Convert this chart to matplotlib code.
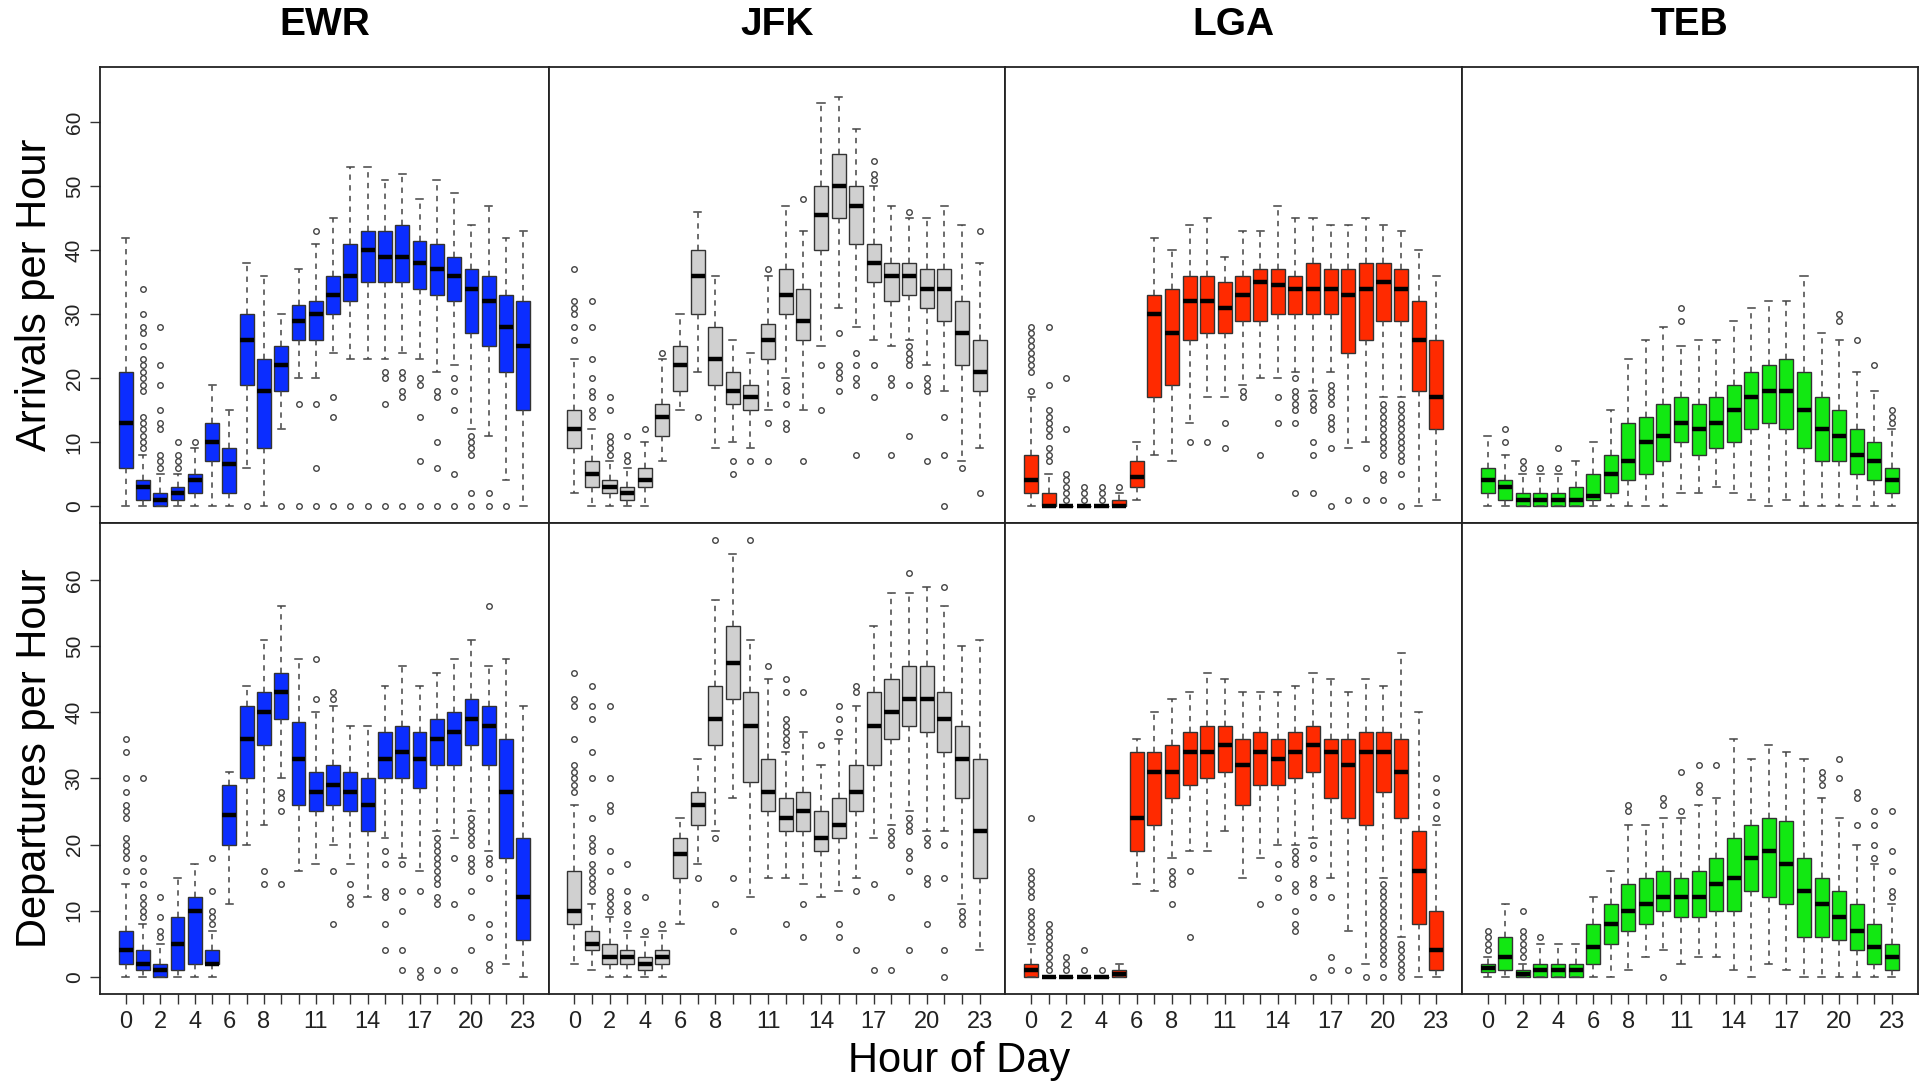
import matplotlib
matplotlib.use("Agg")
import matplotlib.pyplot as plt

plt.rcParams["font.family"] = ["Liberation Sans", "DejaVu Sans"]

airports = ["EWR", "JFK", "LGA", "TEB"]
box_colors = ["#0b2dff", "#d0d0d0", "#ff2a00", "#12e812"]
hours = list(range(24))
hour_labels = [str(h) if h in (0, 2, 4, 6, 8, 11, 14, 17, 20, 23) else "" for h in hours]

# Hourly box statistics, one row per hour: [whisker low, q1, median, q3, whisker high]
ewr_arr = [
    [0, 6, 13, 21, 42], [0, 1, 3, 4, 8], [0, 0, 1, 2, 5], [0, 1, 2, 3, 5],
    [0, 2, 4, 5, 9], [0, 7, 10, 13, 19], [0, 2, 6.5, 9, 15], [6, 19, 26, 30, 38],
    [0, 9, 18, 23, 36], [12, 18, 22, 25, 30], [20, 26, 29, 31.5, 37], [20, 26, 30, 32, 41],
    [24, 30, 33, 36, 45], [23, 32, 36, 41, 53], [23, 35, 40, 43, 53], [23, 35, 39, 43, 51],
    [24, 35, 39, 44, 52], [23, 34, 38, 41.5, 48], [21, 33, 37, 41, 51], [22, 32, 36, 39, 49],
    [12, 27, 34, 37, 44], [11, 25, 32, 36, 47], [4, 21, 28, 33, 42], [0, 15, 25, 32, 43],
]
ewr_arr_out = [
    [], [9, 10, 11, 12, 13, 14, 18, 19, 20, 21, 22, 23, 25, 27, 28, 30, 34],
    [6, 7, 8, 12, 13, 15, 19, 22, 28], [6, 7, 8, 10], [10], [], [], [0], [], [0],
    [16, 0], [43, 16, 6, 0], [17, 14, 0], [0], [0], [21, 20, 16, 0], [21, 20, 18, 17, 0],
    [20, 19, 14, 7, 0], [18, 17, 10, 6, 0], [20, 18, 15, 5, 0], [11, 10, 9, 8, 2, 0],
    [2, 0], [0], [],
]

jfk_arr = [
    [2, 9, 12, 15, 23], [0, 3, 5, 7, 12], [0, 2, 3, 4, 7], [0, 1, 2, 3, 6],
    [0, 3, 4, 6, 10], [7, 11, 14, 16, 23], [15, 18, 22, 25, 30], [21, 30, 36, 40, 46],
    [9, 19, 23, 28, 36], [10, 16, 18, 21, 26], [9, 15, 17, 19, 24], [15, 23, 26, 28.5, 36],
    [20, 30, 33, 37, 47], [15, 26, 29, 34, 43], [25, 40, 45.5, 50, 63], [31, 45, 50, 55, 64],
    [28, 41, 47, 50, 59], [26, 35, 38, 41, 50], [25, 32, 36, 38, 47], [26, 33, 36, 38, 45],
    [22, 31, 34, 37, 45], [18, 29, 34, 37, 47], [7, 22, 27, 32, 44], [9, 18, 21, 26, 38],
]
jfk_arr_out = [
    [37, 32, 31, 30, 28, 26], [32, 28, 23, 20, 18, 17, 15, 14], [17, 15, 11, 10, 9, 8],
    [11, 8, 7], [12], [24], [], [14], [], [7, 5], [7], [37, 13, 7], [19, 18, 16, 13, 12],
    [48, 7], [22, 15], [27, 22, 21, 20, 18], [24, 22, 20, 19, 8], [54, 52, 51, 22, 17],
    [20, 19, 8], [46, 25, 24, 23, 22, 19, 11], [20, 19, 18, 7], [14, 8, 0], [6], [43, 2],
]

lga_arr = [
    [0, 2, 4, 8, 17], [0, 0, 0, 2, 5], [0, 0, 0, 0, 0], [0, 0, 0, 0, 0],
    [0, 0, 0, 0, 0], [0, 0, 0, 1, 2], [1, 3, 4.5, 7, 10], [8, 17, 30, 33, 42],
    [7, 19, 27, 34, 40], [13, 26, 32, 36, 44], [17, 27, 32, 36, 45], [17, 27, 31, 35, 39],
    [19, 29, 33, 36, 43], [20, 29, 35, 37, 43], [20, 30, 34.5, 37, 47], [21, 30, 34, 36, 45],
    [18, 30, 34, 38, 45], [21, 30, 34, 37, 44], [9, 24, 33, 37, 44], [10, 26, 34, 38, 45],
    [17, 29, 35, 38, 44], [17, 29, 34, 37, 43], [0, 18, 26, 32, 40], [1, 12, 17, 26, 36],
]
lga_arr_out = [
    [18, 21, 22, 23, 24, 25, 26, 27, 28], [7, 8, 9, 11, 12, 13, 14, 15, 19, 28],
    [1, 2, 3, 4, 5, 12, 20], [1, 2, 3], [1, 2, 3], [3], [], [], [], [10], [10], [13, 9],
    [18, 17], [8], [17, 13], [20, 18, 17, 16, 15, 13, 2], [17, 16, 15, 10, 8, 2],
    [19, 18, 17, 16, 14, 13, 12, 9, 0], [1], [6, 1],
    [16, 15, 14, 13, 12, 11, 10, 9, 8, 5, 4, 1], [16, 15, 14, 13, 12, 11, 10, 9, 8, 7, 5, 0],
    [], [],
]

teb_arr = [
    [0, 2, 4, 6, 11], [0, 1, 3, 4, 8], [0, 0, 1, 2, 5], [0, 0, 1, 2, 5],
    [0, 0, 1, 2, 5], [0, 0, 1, 3, 7], [0, 1, 1.5, 5, 10], [0, 2, 5, 8, 15],
    [0, 4, 7, 13, 23], [0, 5, 10, 14, 26], [0, 7, 11, 16, 28], [2, 10, 13, 17, 25],
    [2, 8, 12, 16, 26], [3, 9, 13, 17, 26], [2, 10, 15, 19, 29], [1, 12, 17, 21, 31],
    [0, 13, 18, 22, 32], [1, 12, 18, 23, 32], [0, 9, 15, 21, 36], [0, 7, 12, 17, 27],
    [0, 7, 11, 15, 26], [0, 5, 8, 12, 21], [0, 4, 7, 10, 18], [0, 2, 4, 6, 12],
]
teb_arr_out = [
    [], [12, 10], [7, 6], [6], [9, 6], [], [], [], [], [], [], [31, 29], [], [], [], [],
    [], [], [], [], [30, 29], [26], [22], [13, 14, 15],
]

ewr_dep = [
    [0, 2, 4, 7, 14], [0, 1, 2, 4, 8], [0, 0, 1, 2, 5], [0, 1, 5, 9, 15],
    [0, 2, 10, 12, 17], [0, 2, 2, 4, 7], [11, 20, 24.5, 29, 31], [20, 30, 36, 41, 44],
    [23, 35, 40, 43, 51], [30, 39, 43, 46, 56], [16, 26, 33, 38.5, 48], [17, 25, 28, 31, 40],
    [20, 26, 29, 32, 41], [17, 25, 28, 31, 38], [12, 22, 26, 30, 38], [21, 30, 33, 37, 44],
    [18, 30, 34, 38, 47], [16, 28.5, 33, 37, 44], [22, 32, 36, 39, 46], [21, 32, 37, 40, 48],
    [25, 35, 39, 42, 51], [19, 32, 38, 41, 47], [2, 18, 28, 36, 48], [0, 5.5, 12, 21, 41],
]
ewr_dep_out = [
    [36, 34, 30, 28, 26, 25, 24, 21, 20, 19, 18, 16], [30, 18, 16, 14, 12, 11, 10, 9],
    [12, 9, 7, 6], [], [], [18, 13, 10, 9, 8], [], [], [16, 14], [28, 27, 25, 14], [],
    [48, 42], [43, 42, 16, 8], [14, 12, 11], [], [19, 17, 13, 12, 8, 4], [17, 13, 10, 4, 1],
    [13, 1, 0], [21, 20, 19, 18, 17, 16, 15, 14, 12, 11, 1], [18, 11, 1],
    [24, 23, 22, 21, 20, 18, 17, 16, 13, 9, 4], [56, 18, 17, 15, 8, 6, 2, 1], [], [],
]

jfk_dep = [
    [2, 8, 10, 16, 26], [1, 4, 5, 7, 11], [0, 2, 3, 5, 9], [0, 2, 3, 4, 7],
    [0, 1, 2, 3, 6], [0, 2, 3, 4, 7], [8, 15, 18.5, 21, 24], [17, 23, 26, 28, 33],
    [22, 35, 39, 44, 57], [27, 42, 47.5, 53, 64], [12, 29.5, 38, 43, 51], [15, 25, 28, 33, 45],
    [15, 22, 24, 27, 34], [14, 22, 25, 28, 37], [12, 19, 21, 25, 32], [13, 21, 23, 27, 36],
    [15, 25, 28, 32, 41], [21, 32, 38, 43, 53], [23, 36, 40, 45, 58], [25, 38, 42, 47, 58],
    [22, 37, 42, 47, 59], [22, 34, 39, 43, 56], [11, 27, 33, 38, 50], [4, 15, 22, 33, 51],
]
jfk_dep_out = [
    [46, 42, 41, 36, 32, 31, 30, 29, 28],
    [44, 41, 39, 34, 30, 24, 21, 20, 19, 17, 16, 15, 14, 13],
    [41, 30, 26, 25, 19, 16, 13, 12, 11, 10], [17, 13, 11, 10, 8], [12, 7], [8], [], [15],
    [66, 21, 11], [15, 7], [66], [47], [45, 43, 39, 38, 37, 36, 35, 8], [43, 11, 6], [35],
    [41, 39, 37, 8, 6], [44, 43, 13, 4], [14, 1], [22, 21, 20, 12, 1],
    [61, 24, 23, 22, 19, 18, 16, 4], [21, 20, 15, 14, 8], [59, 20, 15, 4, 0], [10, 9, 8], [],
]

lga_dep = [
    [0, 0, 1, 2, 5], [0, 0, 0, 0, 0], [0, 0, 0, 0, 0], [0, 0, 0, 0, 0],
    [0, 0, 0, 0, 0], [0, 0, 0.5, 1, 2], [14, 19, 24, 34, 36], [13, 23, 31, 34, 40],
    [18, 27, 31, 35, 42], [19, 29, 34, 37, 43], [19, 30, 34, 38, 46], [22, 31, 35, 38, 45],
    [15, 26, 32, 36, 43], [18, 29, 34, 37, 43], [20, 29, 33, 36, 43], [20, 30, 34, 37, 44],
    [21, 31, 35, 38, 46], [15, 27, 34, 36, 45], [7, 24, 32, 36, 43], [2, 23, 34, 37, 45],
    [15, 28, 34, 37, 44], [6, 24, 31, 36, 49], [0, 8, 16, 22, 40], [0, 1, 4, 10, 23],
]
lga_dep_out = [
    [24, 16, 15, 14, 13, 12, 10, 9, 8, 7, 6], [8, 7, 6, 5, 4, 3, 2, 1], [3, 2, 1], [4, 1],
    [1], [], [], [], [16, 15, 14, 11], [16, 6], [], [], [], [11], [17, 15, 12],
    [19, 18, 17, 14, 13, 10, 8, 7], [20, 18, 15, 14, 12, 0], [12, 3, 1], [1], [0],
    [14, 13, 12, 11, 10, 9, 8, 7, 6, 5, 4, 3, 2, 0], [5, 4, 3, 2, 1, 0], [], [30, 28, 26, 24],
]

teb_dep = [
    [0, 0.7, 1.3, 2, 3], [0, 1, 3, 6, 11], [0, 0, 0.5, 1, 2], [0, 0, 1, 2, 5],
    [0, 0, 1, 2, 5], [0, 0, 1, 2, 5], [0, 2, 4.5, 8, 12], [0, 5, 8, 11, 16],
    [1, 7, 10, 14, 23], [3, 8, 11, 15, 23], [4, 10, 12, 16, 24], [2, 9, 12, 15, 24],
    [3, 9, 12, 16, 26], [3, 10, 14, 18, 27], [1, 10, 15, 21, 36], [0, 13, 18, 23, 33],
    [2, 12, 19, 24, 35], [1, 11, 17, 23.5, 34], [0, 6, 13, 18, 33], [0, 6, 11, 15, 27],
    [0, 5.5, 9, 13, 24], [0, 4, 7, 11, 20], [0, 2, 4.5, 8, 17], [0, 1, 3, 5, 11],
]
teb_dep_out = [
    [4, 5, 6, 7], [], [3, 4, 5, 6, 7, 10], [6], [], [], [], [], [25, 26], [], [27, 26, 0],
    [31, 25], [32, 29, 28], [32], [], [], [], [], [], [31, 30, 29], [33, 30], [28, 27, 23],
    [25, 23, 20, 18], [25, 19, 16, 13, 12],
]

arrivals = [(ewr_arr, ewr_arr_out), (jfk_arr, jfk_arr_out), (lga_arr, lga_arr_out), (teb_arr, teb_arr_out)]
departures = [(ewr_dep, ewr_dep_out), (jfk_dep, jfk_dep_out), (lga_dep, lga_dep_out), (teb_dep, teb_dep_out)]


def draw_panel(ax, rows, outliers, color):
    stats = [
        dict(whislo=r[0], q1=r[1], med=r[2], q3=r[3], whishi=r[4], fliers=f)
        for r, f in zip(rows, outliers)
    ]
    ax.bxp(
        stats, positions=hours, widths=0.8, capwidths=0.4, patch_artist=True,
        boxprops=dict(facecolor=color, edgecolor="#333333", linewidth=1.0),
        medianprops=dict(color="black", linewidth=3.2, solid_capstyle="butt"),
        whiskerprops=dict(color="#444444", linewidth=1.1, linestyle=(0, (3.5, 3.5))),
        capprops=dict(color="#444444", linewidth=1.1),
        flierprops=dict(marker="o", markerfacecolor="none", markeredgecolor="#444444",
                        markersize=4, markeredgewidth=1.0),
    )
    ax.set_xlim(-1.46, 24.46)
    ax.set_ylim(-2.64, 68.64)
    for sp in ax.spines.values():
        sp.set_linewidth(1.3)
        sp.set_color("#222222")


fig = plt.figure(figsize=(19.2, 10.85), dpi=100)

# panel edges as figure fractions
col_edges = [0.0523, 0.2857, 0.5236, 0.7615, 0.9987]
rows_pos = [(0.5181, 0.4199), (0.0836, 0.4345)]

for r, (data, (bottom, height)) in enumerate(zip([arrivals, departures], rows_pos)):
    for c, ((stats_rows, outs), color) in enumerate(zip(data, box_colors)):
        x0, x1 = col_edges[c], col_edges[c + 1]
        ax = fig.add_axes([x0, bottom, x1 - x0, height])
        draw_panel(ax, stats_rows, outs, color)

        ax.set_xticks(hours)
        if r == 1:
            ax.set_xticklabels(hour_labels)
            ax.tick_params(axis="x", length=7, width=1, color="#333333",
                           labelsize=17, labelcolor="#222222", pad=5)
        else:
            ax.tick_params(axis="x", bottom=False, labelbottom=False)

        if c == 0:
            ax.set_yticks(range(0, 61, 10))
            ax.tick_params(axis="y", length=7, width=1, color="#333333",
                           labelsize=15, labelcolor="#222222", pad=5)
            for lbl in ax.get_yticklabels():
                lbl.set_rotation(90)
                lbl.set_va("center")
        else:
            ax.set_yticks([])

        if r == 0:
            fig.text((x0 + x1) / 2, 0.977, airports[c], fontsize=28,
                     fontweight="bold", ha="center", va="center")

fig.text(0.018, 0.728, "Arrivals per Hour", rotation=90, fontsize=30, ha="center", va="center")
fig.text(0.018, 0.301, "Departures per Hour", rotation=90, fontsize=30, ha="center", va="center")
fig.text(0.4995, 0.022, "Hour of Day", fontsize=30, ha="center", va="center")

fig.savefig("out.png", dpi=100, facecolor="white")
